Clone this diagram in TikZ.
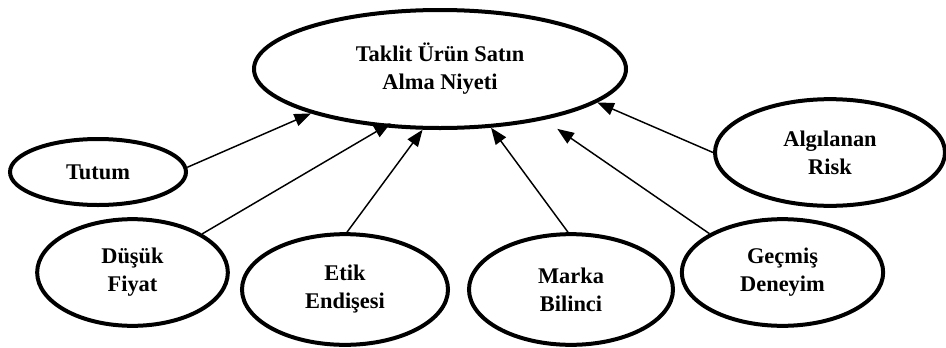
\documentclass[tikz,border=0pt]{standalone}
\usepackage{fontspec}
\setmainfont{Liberation Serif}
\usetikzlibrary{shapes.geometric,arrows.meta}
\begin{document}
\begin{tikzpicture}[x=0.75pt,y=-0.75pt,
  oval/.style={ellipse,draw,line width=3pt,inner sep=0pt,align=center,
    font=\fontsize{16.8}{21}\selectfont\bfseries},
  link/.style={line width=1.1pt,-{Triangle[length=12.5pt,width=9.5pt]}}]
\useasboundingbox (0,0) rectangle (946,347);
\node[oval,minimum width=279pt,minimum height=88.5pt] (main) at (440,69) {Taklit Ürün Satın\\Alma Niyeti};
\node[oval,minimum width=132pt,minimum height=49.5pt] (tutum) at (98,172) {Tutum};
\node[oval,minimum width=143pt,minimum height=80pt] (fiyat) at (132.5,272.5) {Düşük\\Fiyat};
\node[oval,minimum width=154.5pt,minimum height=83pt] (etik) at (345,289.5) {Etik\\Endişesi};
\node[oval,minimum width=153pt,minimum height=83pt] (marka) at (571,289.5) {Marka\\Bilinci};
\node[oval,minimum width=151pt,minimum height=80pt] (gecmis) at (782.5,272.5) {Geçmiş\\Deneyim};
\node[oval,minimum width=172.5pt,minimum height=80pt] (risk) at (830,152.5) {Algılanan\\Risk};
\draw[link] (tutum.3) -- (main.-161);
\draw[link,shorten >=-6pt] (fiyat.29) -- (main.-134);
\draw[link] (etik.88) -- (main.-106);
\draw[link] (marka.93) -- (main.-49);
\draw[link,shorten >=12pt] (gecmis.152) -- (main.-26);
\draw[link] (risk.west) -- (main.-12);
\end{tikzpicture}
\end{document}
